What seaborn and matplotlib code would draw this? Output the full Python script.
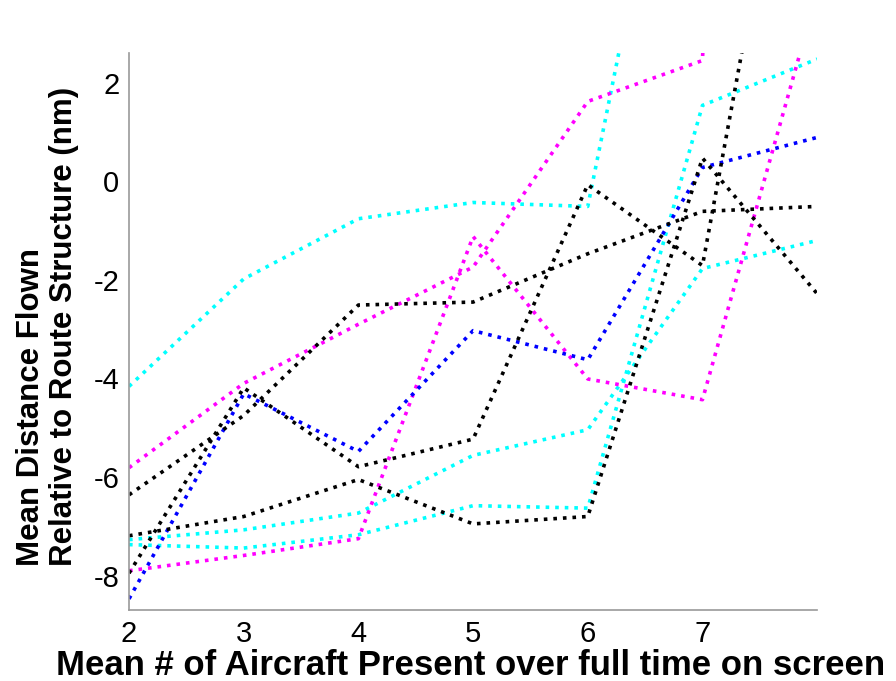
"""
Mean distance flown vs mean number of aircraft present (dotted lines per run).
"""

import matplotlib
matplotlib.use('Agg')
import matplotlib.pyplot as plt
import numpy as np
import pandas as pd
import seaborn as sns

sns.set_style('white')
plt.rcParams['font.family'] = ['Liberation Sans', 'DejaVu Sans']
plt.rcParams['axes.unicode_minus'] = False
plt.rcParams['text.color'] = 'black'
plt.rcParams['axes.labelcolor'] = 'black'
plt.rcParams['xtick.color'] = 'black'
plt.rcParams['ytick.color'] = 'black'

# x positions (mean # of aircraft)
n_aircraft = [2, 3, 4, 5, 6, 7, 8]

# one series per run (values past the top are clipped)
cyan_top = [-4.16, -1.98, -0.76, -0.43, -0.51, 11.0, np.nan]
cyan_mid = [-7.27, -7.07, -6.73, -5.56, -5.04, -1.77, -1.20]
cyan_low = [-7.37, -7.44, -7.17, -6.58, -6.63, 1.54, 2.48]
magenta_a = [-5.81, -4.10, -2.90, -1.74, 1.62, 2.45, 60.0]
magenta_b = [-7.90, -7.59, -7.25, -1.12, -4.01, -4.43, 3.83]
blue_a = [-8.47, -4.31, -5.48, -3.03, -3.62, 0.28, 0.89]
black_a = [-6.36, -4.75, -2.51, -2.45, -1.47, -0.61, -0.51]
black_b = [-7.95, -4.19, -5.79, -5.23, -0.07, -1.71, 10.9]
black_c = [-7.19, -6.80, -6.05, -6.95, -6.80, 0.47, -2.28]

series = [
    ('cyan_top', cyan_top, 'cyan'),
    ('cyan_mid', cyan_mid, 'cyan'),
    ('cyan_low', cyan_low, 'cyan'),
    ('magenta_a', magenta_a, 'magenta'),
    ('magenta_b', magenta_b, 'magenta'),
    ('blue_a', blue_a, 'blue'),
    ('black_a', black_a, 'black'),
    ('black_b', black_b, 'black'),
    ('black_c', black_c, 'black'),
]

df = pd.concat([
    pd.DataFrame({'x': n_aircraft, 'y': vals, 'run': name})
    for name, vals, _ in series
], ignore_index=True)
palette = {name: col for name, _, col in series}

fig = plt.figure(figsize=(8.96, 6.81), dpi=100)
ax = fig.add_axes([0.144, 0.104, 0.768, 0.818])

sns.lineplot(data=df, x='x', y='y', hue='run', palette=palette,
             linestyle=':', linewidth=2.6, legend=False, ax=ax,
             estimator=None, sort=False)

ax.set_xlim(2, 8)
ax.set_ylim(-8.7, 2.6)
ax.set_xticks([2, 3, 4, 5, 6, 7])
ax.set_yticks([-8, -6, -4, -2, 0, 2])
ax.tick_params(direction='in', length=6, color='#888888', labelsize=21, pad=7)

for side in ['top', 'right']:
    ax.spines[side].set_visible(False)
for side in ['left', 'bottom']:
    ax.spines[side].set_color('#999999')
    ax.spines[side].set_linewidth(1.2)

ax.set_xlabel('Mean # of Aircraft Present over full time on screen',
              fontsize=25, fontweight='bold')
ax.set_ylabel('Mean Distance Flown\nRelative to Route Structure (nm)',
              fontsize=22.5, fontweight='bold', linespacing=1.15,
              multialignment='left')
ax.yaxis.set_label_coords(-0.072, 0.51)
ax.xaxis.set_label_coords(0.497, -0.069)

fig.savefig('out.png', dpi=100)
